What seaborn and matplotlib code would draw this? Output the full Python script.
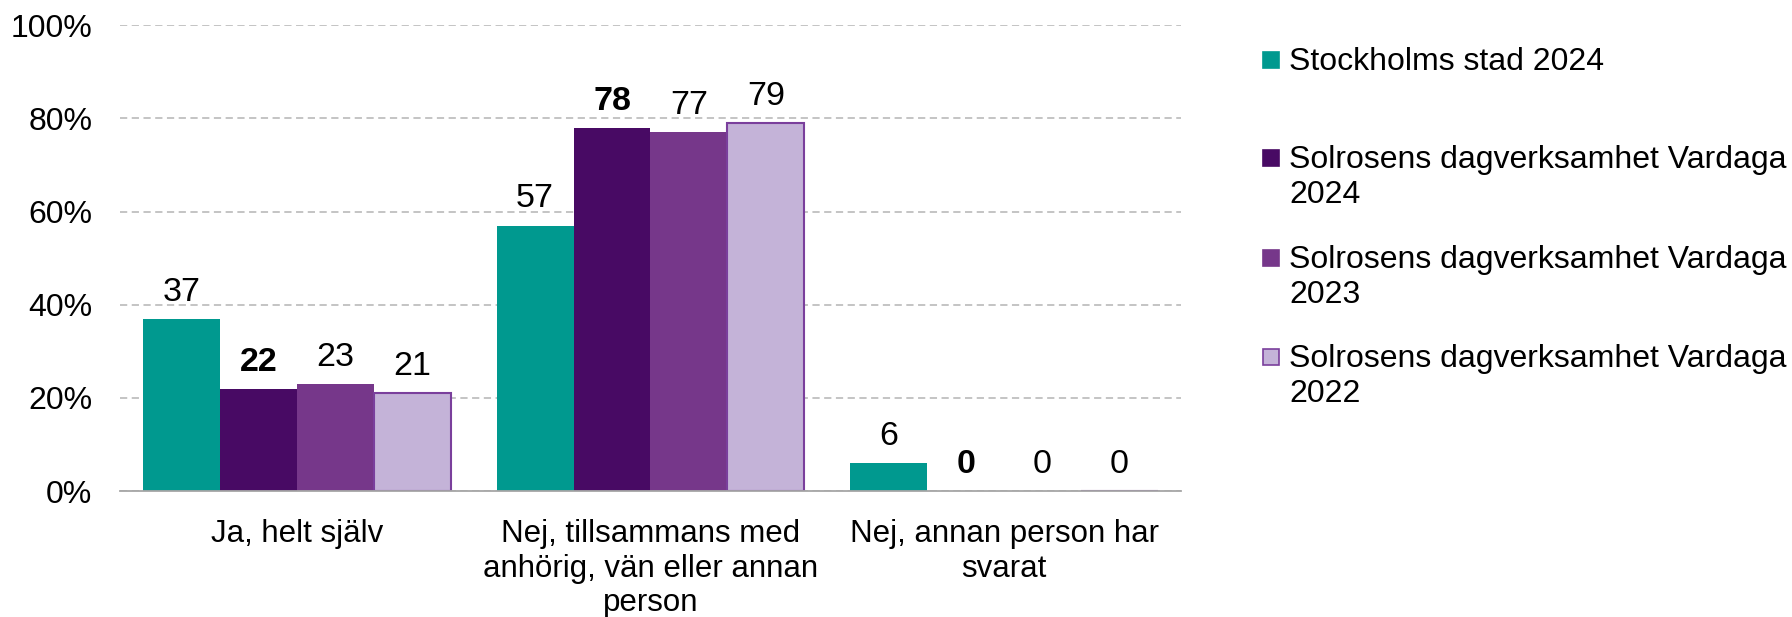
import matplotlib.pyplot as plt
import pandas as pd
import seaborn as sns
from matplotlib.patches import Rectangle
from matplotlib.ticker import FixedLocator, PercentFormatter

categories = [
    "Ja, helt själv",
    "Nej, tillsammans med\nanhörig, vän eller annan\nperson",
    "Nej, annan person har\nsvarat",
]
series = [
    "Stockholms stad 2024",
    "Solrosens dagverksamhet Vardaga\n2024",
    "Solrosens dagverksamhet Vardaga\n2023",
    "Solrosens dagverksamhet Vardaga\n2022",
]
stockholm_2024 = [37, 57, 6]
solrosen_2024 = [22, 78, 0]
solrosen_2023 = [23, 77, 0]
solrosen_2022 = [21, 79, 0]
values = [stockholm_2024, solrosen_2024, solrosen_2023, solrosen_2022]

colors = ["#00998F", "#480A64", "#76378A", "#C4B3D8"]
edge_colors = ["none", "none", "none", "#7A3F9C"]
bold_series = [False, True, False, False]

rows = []
for name, vals in zip(series, values):
    for cat, v in zip(categories, vals):
        rows.append({"category": cat, "series": name, "value": v})
df = pd.DataFrame(rows)

sns.set_theme(style="white")
plt.rcParams["font.family"] = ["Liberation Sans", "DejaVu Sans"]

fig = plt.figure(figsize=(17.92, 6.17), dpi=100)
ax = fig.add_axes([0.067, 0.204, 0.592, 0.755])

sns.barplot(
    data=df, x="category", y="value", hue="series",
    order=categories, hue_order=series, palette=colors,
    width=0.87, saturation=1, legend=False, ax=ax,
)

for cont, ec, bold in zip(ax.containers, edge_colors, bold_series):
    for bar in cont:
        bar.set_edgecolor(ec)
        bar.set_linewidth(1.5 if ec != "none" else 0)
    ax.bar_label(cont, fmt="%d", padding=8, fontsize=24.5,
                 fontweight="bold" if bold else "normal", color="black")

ax.set_ylim(0, 100)
ax.set_xlim(-0.5, 2.5)
ax.yaxis.set_major_locator(FixedLocator([0, 20, 40, 60, 80, 100]))
ax.yaxis.set_major_formatter(PercentFormatter(decimals=0))
ax.grid(axis="y", color="#BFBFBF", linestyle=(0, (4, 2.5)), linewidth=1.3)
ax.set_axisbelow(True)

for side in ["top", "right", "left"]:
    ax.spines[side].set_visible(False)
ax.spines["bottom"].set_color("#A6A6A6")
ax.spines["bottom"].set_linewidth(1.3)

ax.set_xlabel("")
ax.set_ylabel("")
ax.tick_params(axis="y", length=0, pad=20, labelsize=23, labelcolor="black")
ax.tick_params(axis="x", which="major", length=0, pad=20, labelsize=22.5, labelcolor="black")
ax.set_xticks(range(len(categories)))
ax.set_xticklabels(categories, linespacing=1.2)
ax.xaxis.set_minor_locator(FixedLocator([-0.5, 0.5, 1.5, 2.5]))
ax.tick_params(axis="x", which="minor", length=7, width=1.3, color="#A6A6A6", direction="out")

# legend drawn by hand so the swatch sits on the first line of each label
legend_rows = [60, 158, 258, 357]
for name, col, ec, yc in zip(series, colors, edge_colors, legend_rows):
    sq = 16
    fig.add_artist(Rectangle(
        (1263 / 1792, 1 - (yc + sq / 2) / 617), sq / 1792, sq / 617,
        transform=fig.transFigure, facecolor=col,
        edgecolor=ec if ec != "none" else col, linewidth=1.2,
    ))
    fig.text(1289 / 1792, 1 - (yc - 13) / 617, name, fontsize=23,
             va="top", ha="left", linespacing=1.2, color="black")

fig.savefig("out.png", dpi=100)
plt.close(fig)
